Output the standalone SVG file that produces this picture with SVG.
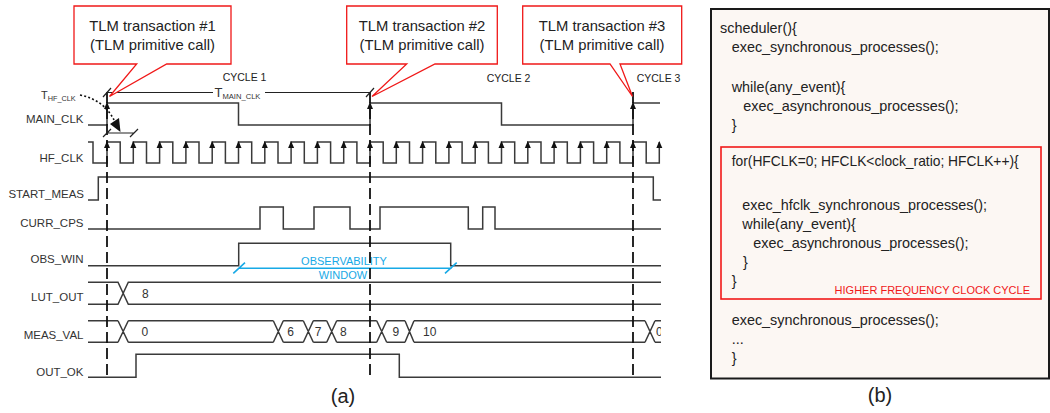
<svg xmlns="http://www.w3.org/2000/svg" width="1050" height="413" viewBox="0 0 1050 413">
<style>
.lbl{font-family:"Liberation Sans",Arial,sans-serif;font-size:11.5px;fill:#333;text-anchor:end}
.cyc{font-family:"Liberation Sans",Arial,sans-serif;font-size:10.5px;fill:#222}
.val{font-family:"Liberation Sans",Arial,sans-serif;font-size:12px;fill:#333}
.co{fill:#fff;stroke:#f01818;stroke-width:1.3}
.cot{font-family:"Liberation Sans",Arial,sans-serif;font-size:14.8px;fill:#222;text-anchor:middle}
.sig{fill:none;stroke:#3a3a3a;stroke-width:1.5}
.dash{fill:none;stroke:#111;stroke-width:1.8;stroke-dasharray:11,5}
.dim{fill:none;stroke:#222;stroke-width:1.2}
.code{font-family:"Liberation Sans",Arial,sans-serif;font-size:14.4px;fill:#222}
.cap{font-family:"Liberation Sans",Arial,sans-serif;font-size:20px;fill:#222;text-anchor:middle}
</style>
<defs>
<path id="up" d="M0,0 L-3,7 L3,7 Z" fill="#111"/>
<clipPath id="clipEnd"><rect x="0" y="0" width="661" height="413"/></clipPath>
</defs>
<rect width="1050" height="413" fill="#fff"/>

<!-- signal labels -->
<g id="labels">
<text class="lbl" x="83.5" y="123.3">MAIN_CLK</text>
<text class="lbl" x="83.5" y="161.7">HF_CLK</text>
<text class="lbl" x="84" y="197.7">START_MEAS</text>
<text class="lbl" x="83.5" y="227.3">CURR_CPS</text>
<text class="lbl" x="83.5" y="263.3">OBS_WIN</text>
<text class="lbl" x="83.5" y="300.5">LUT_OUT</text>
<text class="lbl" x="83.5" y="339">MEAS_VAL</text>
<text class="lbl" x="83.5" y="376">OUT_OK</text>
</g>

<g id="cycles">
<text class="cyc" x="222.7" y="81">CYCLE 1</text>
<text class="cyc" x="486.7" y="81.5">CYCLE 2</text>
<text class="cyc" x="636.7" y="81.5">CYCLE 3</text>
</g>

<!-- waveforms -->
<g id="sig-MAIN_CLK">
<path class="sig" d="M88,125 H107 V103 H238.5 V125 H370 V103 H501.5 V125 H633 V103 H660"/>
<use href="#up" x="107" y="102"/>
<use href="#up" x="370" y="102"/>
<use href="#up" x="633" y="102"/>
</g>

<g id="sig-HF_CLK">
<path class="sig" d="M88,142 H93 V163 H107 V142 H120.2 V163 H133.3 V142 H146.5 V163 H159.6 V142 H172.8 V163 H185.9 V142 H199 V163 H212.2 V142 H225.4 V163 H238.5 V142 H251.7 V163 H264.8 V142 H278 V163 H291.1 V142 H304.3 V163 H317.4 V142 H330.6 V163 H343.7 V142 H356.9 V163 H370 V142 H383.2 V163 H396.3 V142 H409.5 V163 H422.6 V142 H435.8 V163 H448.9 V142 H462.1 V163 H475.2 V142 H488.4 V163 H501.5 V142 H514.7 V163 H527.8 V142 H541 V163 H554.1 V142 H567.3 V163 H580.4 V142 H593.6 V163 H606.7 V142 H619.9 V163 H633 V142 H646.2 V163 H659.3 V142"/>
<use href="#up" x="107" y="141"/><use href="#up" x="133.3" y="141"/><use href="#up" x="159.6" y="141"/><use href="#up" x="185.9" y="141"/><use href="#up" x="212.2" y="141"/><use href="#up" x="238.5" y="141"/><use href="#up" x="264.8" y="141"/><use href="#up" x="291.1" y="141"/><use href="#up" x="317.4" y="141"/><use href="#up" x="343.7" y="141"/><use href="#up" x="370" y="141"/><use href="#up" x="396.3" y="141"/><use href="#up" x="422.6" y="141"/><use href="#up" x="448.9" y="141"/><use href="#up" x="475.2" y="141"/><use href="#up" x="501.5" y="141"/><use href="#up" x="527.8" y="141"/><use href="#up" x="554.1" y="141"/><use href="#up" x="580.4" y="141"/><use href="#up" x="606.7" y="141"/><use href="#up" x="633" y="141"/><use href="#up" x="659.3" y="141"/>
</g>

<g id="sig-START_MEAS">
<path class="sig" d="M88,200 H98.3 V177 H653.3 V200 H661"/>
</g>

<g id="sig-CURR_CPS">
<path class="sig" d="M88,229 H260 V207 H283.3 V229 H314 V207 H350 V229 H380 V207 H468.3 V229 H482.7 V207 H495 V229 H661"/>
</g>

<g id="sig-OBS_WIN">
<path class="sig" d="M88,265.7 H238.7 V243.3 H450.7 V265.7 H661"/>
</g>

<g id="sig-LUT_OUT">
<path class="sig" d="M88,282.3 H118 L128.3,304.3 H661 M88,304.3 H118 L128.3,282.3 H661"/>
<text class="val" x="142" y="298">8</text>
</g>

<g id="sig-MEAS_VAL">
<path class="sig" d="M88,320.7 H118 M128.3,320.7 H273.3 M283.3,320.7 H303.3 M313.3,320.7 H326.7 M336.7,320.7 H376.7 M386.7,320.7 H405 M414,320.7 H645 M655,320.7 H661
M88,342.3 H118 M128.3,342.3 H273.3 M283.3,342.3 H303.3 M313.3,342.3 H326.7 M336.7,342.3 H376.7 M386.7,342.3 H405 M414,342.3 H645 M655,342.3 H661
M118,320.7 L128.3,342.3 M118,342.3 L128.3,320.7
M273.3,320.7 L283.3,342.3 M273.3,342.3 L283.3,320.7
M303.3,320.7 L313.3,342.3 M303.3,342.3 L313.3,320.7
M326.7,320.7 L336.7,342.3 M326.7,342.3 L336.7,320.7
M376.7,320.7 L386.7,342.3 M376.7,342.3 L386.7,320.7
M405,320.7 L414,342.3 M405,342.3 L414,320.7
M645,320.7 L655,342.3 M645,342.3 L655,320.7"/>
<text class="val" x="141.5" y="336">0</text>
<text class="val" x="287.3" y="336">6</text>
<text class="val" x="314.8" y="336">7</text>
<text class="val" x="340" y="336">8</text>
<text class="val" x="392.5" y="336">9</text>
<text class="val" x="423" y="336">10</text>
<text class="val" x="656" y="336" clip-path="url(#clipEnd)">0</text>
</g>

<g id="sig-OUT_OK">
<path class="sig" d="M88,377.3 H136 V354.3 H399.3 V377.3 H661"/>
</g>

<!-- observability window -->
<g id="obs-window">
<path d="M238.3,268.3 H451.7 M233.3,273.3 L245,262.7 M445,273.3 L456.7,262.7" fill="none" stroke="#17a9e6" stroke-width="1.6"/>
<text x="344" y="265" font-family="Liberation Sans, Arial, sans-serif" font-size="11px" fill="#17a9e6" text-anchor="middle">OBSERVABILITY</text>
<text x="343" y="279.3" font-family="Liberation Sans, Arial, sans-serif" font-size="11px" fill="#17a9e6" text-anchor="middle">WINDOW</text>
</g>

<!-- connectors: dashed cycle markers, dimensions -->
<g id="connectors">
<line class="dash" x1="107" y1="92" x2="107" y2="380"/>
<line class="dash" x1="370" y1="92" x2="370" y2="380"/>
<line class="dash" x1="633" y1="92" x2="633" y2="380"/>
<path class="dim" d="M107,92.5 H370 M103,97 L111,88 M366,97 L374,88"/>
<path class="dim" d="M107,133 H134 M103,137 L111,129 M130,137 L138,129"/>
<path d="M80,95 Q104,100 114,120" fill="none" stroke="#111" stroke-width="1.6" stroke-dasharray="2,2.2"/>
<path d="M110,124 L119,118 L120.5,132 Z" fill="#111"/>
</g>

<g id="dim-labels">
<rect x="213" y="85" width="52" height="14" fill="#fff"/>
<text x="214.5" y="97" font-family="Liberation Sans, Arial, sans-serif" font-size="13px" fill="#333">T<tspan font-size="7.6px" dy="1.5">MAIN_CLK</tspan></text>
<text x="41" y="99" font-family="Liberation Sans, Arial, sans-serif" font-size="11px" fill="#333">T<tspan font-size="7.3px" dy="1.8">HF_CLK</tspan></text>
</g>

<!-- callouts -->
<g id="callout1">
<path class="co" d="M74,6 H231 V64 H166.7 L109.5,96.5 L136.7,64 H74 Z"/>
<text class="cot" x="152.5" y="30.5">TLM transaction #1</text>
<text class="cot" x="152.5" y="50">(TLM primitive call)</text>
</g>
<g id="callout2">
<path class="co" d="M346.7,6 H497.3 V64 H435 L372,96.5 L406.7,64 H346.7 Z"/>
<text class="cot" x="422" y="30.5">TLM transaction #2</text>
<text class="cot" x="422" y="50">(TLM primitive call)</text>
</g>
<g id="callout3">
<path class="co" d="M522.7,6 H681.7 V64 H620 L632.5,96.5 L610,64 H522.7 Z"/>
<text class="cot" x="602" y="30.5">TLM transaction #3</text>
<text class="cot" x="602" y="50">(TLM primitive call)</text>
</g>

<text class="cap" x="343" y="403">(a)</text>

<!-- code panel -->
<g id="code-panel">
<rect x="711" y="9" width="338" height="369.5" fill="#fcf7f3" stroke="#1a1a1a" stroke-width="2"/>
<rect x="721" y="147" width="320" height="152" fill="none" stroke="#f01818" stroke-width="1.6"/>
<text class="code" x="720" y="33">scheduler(){</text>
<text class="code" x="731.7" y="52">exec_synchronous_processes();</text>
<text class="code" x="731.7" y="91.5">while(any_event){</text>
<text class="code" x="743.3" y="110.5">exec_asynchronous_processes();</text>
<text class="code" x="731.7" y="129.5">}</text>
<text class="code" x="731.7" y="166" textLength="287" lengthAdjust="spacingAndGlyphs">for(HFCLK=0; HFCLK&lt;clock_ratio; HFCLK++){</text>
<text class="code" x="742.3" y="209.5">exec_hfclk_synchronous_processes();</text>
<text class="code" x="742.3" y="228.5">while(any_event){</text>
<text class="code" x="753.3" y="247.5">exec_asynchronous_processes();</text>
<text class="code" x="743" y="266.5">}</text>
<text class="code" x="731.7" y="285.5">}</text>
<text x="1030" y="294.3" font-family="Liberation Sans, Arial, sans-serif" font-size="11px" fill="#f01818" text-anchor="end">HIGHER FREQUENCY CLOCK CYCLE</text>
<text class="code" x="731.7" y="325">exec_synchronous_processes();</text>
<text class="code" x="731.7" y="344">...</text>
<text class="code" x="731.7" y="363">}</text>
</g>
<text class="cap" x="880" y="402">(b)</text>
</svg>
